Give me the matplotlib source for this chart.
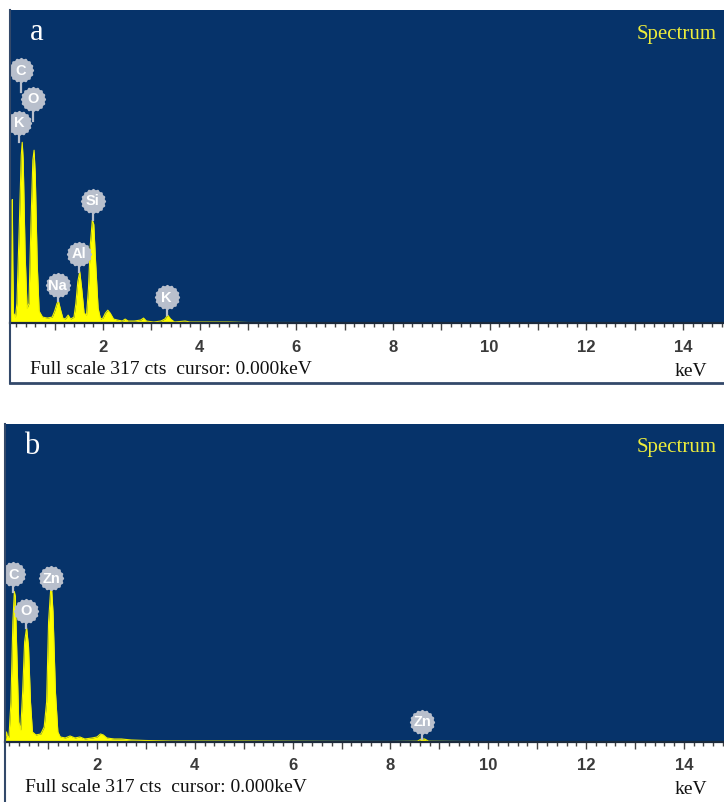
import numpy as np
import matplotlib
matplotlib.use("Agg")
import matplotlib.pyplot as plt
from matplotlib.path import Path
from matplotlib.ticker import MultipleLocator

# spectrum a (keV, counts)
energy_a = [0.08, 0.105, 0.115, 0.125, 0.135, 0.15, 0.19, 0.22, 0.27, 0.31, 0.33, 0.35, 0.39,
            0.43, 0.47, 0.51, 0.55, 0.575, 0.60, 0.64, 0.68, 0.75, 0.85, 0.95, 1.00, 1.05,
            1.08, 1.12, 1.17, 1.22, 1.28, 1.33, 1.40, 1.44, 1.48, 1.52, 1.56, 1.61, 1.66,
            1.70, 1.74, 1.78, 1.81, 1.85, 1.90, 1.95, 2.00, 2.05, 2.10, 2.15, 2.22, 2.30,
            2.40, 2.46, 2.52, 2.65, 2.78, 2.84, 2.90, 3.05, 3.20, 3.28, 3.34, 3.40, 3.48,
            3.70, 3.80, 4.2, 4.6, 5.0, 6.0, 8.0, 10.0, 12.0, 14.9]
counts_a = [0, 0, 60, 125, 60, 10, 6, 20, 100, 170, 183, 165, 70,
            15, 20, 100, 165, 175, 150, 60, 12, 6, 5, 6, 12, 20,
            22, 14, 5, 4, 8, 4, 6, 20, 42, 52, 35, 10, 8,
            35, 80, 104, 100, 60, 15, 4, 5, 10, 13, 10, 4, 3,
            2, 4, 2, 2, 3, 5, 2, 1, 2, 4, 8, 4, 1,
            2, 1, 1, 1, 0.5, 0.5, 0.3, 0.3, 0.2, 0.2]

# spectrum b
energy_b = [0.12, 0.14, 0.15, 0.165, 0.20, 0.24, 0.28, 0.31, 0.33, 0.36, 0.40, 0.44, 0.48,
            0.52, 0.56, 0.60, 0.64, 0.68, 0.75, 0.85, 0.92, 0.97, 1.01, 1.05, 1.07, 1.10,
            1.15, 1.20, 1.25, 1.35, 1.45, 1.55, 1.65, 1.75, 1.90, 2.00, 2.07, 2.13, 2.20,
            2.35, 2.50, 2.70, 3.0, 3.5, 4.0, 5.0, 6.0, 7.0, 8.0, 8.55, 8.63, 8.70, 8.78,
            9.5, 10.0, 12.0, 14.9]
counts_b = [0, 6, 10, 6, 5, 40, 120, 150, 145, 90, 20, 12, 50,
            100, 114, 95, 40, 10, 7, 8, 15, 40, 120, 150, 154, 130,
            50, 10, 5, 4, 6, 4, 5, 3, 4, 5, 8, 7, 4,
            3, 3, 2, 1.5, 1, 1, 1, 0.8, 0.6, 0.5, 0.8, 3, 3, 0.8,
            0.5, 0.4, 0.3, 0.3]

# element badges: label, keV, counts (badge centre), peak top
labels_a = ["C", "O", "K", "Si", "Al", "Na", "K"]
label_x_a = [0.30, 0.55, 0.26, 1.79, 1.50, 1.06, 3.32]
label_y_a = [256, 227, 203, 124, 70, 38, 26]
peak_y_a = [183, 175, 183, 104, 52, 22, 8]

labels_b = ["C", "Zn", "O", "Zn"]
label_x_b = [0.29, 1.06, 0.55, 8.65]
label_y_b = [167, 163, 131, 20]
peak_y_b = [150, 154, 114, 3]

full_scale = 317
tick_keV = [2, 4, 6, 8, 10, 12, 14]

W, H = 724, 802
fig = plt.figure(figsize=(W / 100, H / 100), dpi=100)
bg = "#06336a"
yellow = "#ffff00"
badge = "#b8bfcc"

# round badge with a slightly scalloped rim
th = np.linspace(0, 2 * np.pi, 241)
r = 1 + 0.045 * np.cos(16 * th)
badge_marker = Path(np.column_stack([r * np.cos(th), r * np.sin(th)]), closed=True)


def px(x, y):
    return x / W, 1 - y / H


def panel(left, top, right, bottom, xlim, energy, counts, labs, lx, ly, py, letter):
    x0, y0 = px(left, bottom)
    x1, y1 = px(right, top)
    ax = fig.add_axes([x0, y0, x1 - x0, y1 - y0])
    ax.set_facecolor(bg)
    ax.fill_between(energy, counts, 0, color=yellow, lw=0, zorder=2)
    ax.plot(energy, counts, color="#f2f200", lw=0.8, zorder=2)
    ax.set_xlim(*xlim)
    ax.set_ylim(0, full_scale)
    for s in ["top", "right", "left"]:
        ax.spines[s].set_visible(False)
    ax.spines["bottom"].set_color("#1b2a3c")
    ax.spines["bottom"].set_linewidth(1.6)
    ax.set_yticks([])
    ax.xaxis.set_major_locator(MultipleLocator(1))
    ax.xaxis.set_minor_locator(MultipleLocator(0.2))
    ax.set_xticklabels([])
    ax.tick_params(axis="x", which="major", direction="out", length=5, width=1, color="#444444")
    ax.tick_params(axis="x", which="minor", direction="out", length=3, width=1, color="#444444")
    for lab, x, y, p in zip(labs, lx, ly, py):
        ax.plot([x, x], [y - 5, max(p, y - 22)], color=badge, lw=1.6, zorder=3)
        ax.scatter([x], [y], s=330, marker=badge_marker, color=badge, zorder=4, lw=0)
        ax.text(x, y - 0.5, lab, color="white", ha="center", va="center", fontsize=10.5,
                fontweight="bold", family="Liberation Sans", zorder=5)
    # tick labels in the white strip
    for k in tick_keV:
        xd = ax.transData.transform((k, 0))[0] / fig.dpi / fig.get_figwidth()
        fig.text(xd, 1 - (bottom + 24) / H, str(k), ha="center", va="center", fontsize=12,
                 color="#3a3a3a", family="Liberation Sans", fontweight="bold")
    fig.text(*px(left + 20, bottom + 46), "Full scale 317 cts  cursor: 0.000keV",
             ha="left", va="center", fontsize=14, family="Liberation Serif", color="#111111")
    fig.text(*px(right - 17, bottom + 48), "keV", ha="right", va="center", fontsize=14,
             family="Liberation Serif", color="#111111")
    fig.text(*px(left + 27, top + 22), letter, ha="center", va="center", fontsize=22,
             family="Liberation Serif", color="white")
    fig.text(*px(right - 87, top + 24), "Spectrum", ha="left", va="center", fontsize=15,
             family="Liberation Serif", color="#ecec3c")
    return ax


panel(10, 10, 724, 323, (0.077, 14.85), energy_a, counts_a,
      labels_a, label_x_a, label_y_a, peak_y_a, "a")
panel(5, 424, 724, 742, (0.119, 14.82), energy_b, counts_b,
      labels_b, label_x_b, label_y_b, peak_y_b, "b")

# frame lines around the panels
edge = "#33496a"
fig.add_artist(plt.Line2D([10 / W, 10 / W], [1 - 10 / H, 1 - 383 / H], color=edge, lw=1.5))
fig.add_artist(plt.Line2D([10 / W, 1], [1 - 383 / H, 1 - 383 / H], color=edge, lw=2))
fig.add_artist(plt.Line2D([4.5 / W, 4.5 / W], [1 - 424 / H, 0], color=edge, lw=1.5))

fig.savefig("out.png", dpi=100, facecolor="white")
